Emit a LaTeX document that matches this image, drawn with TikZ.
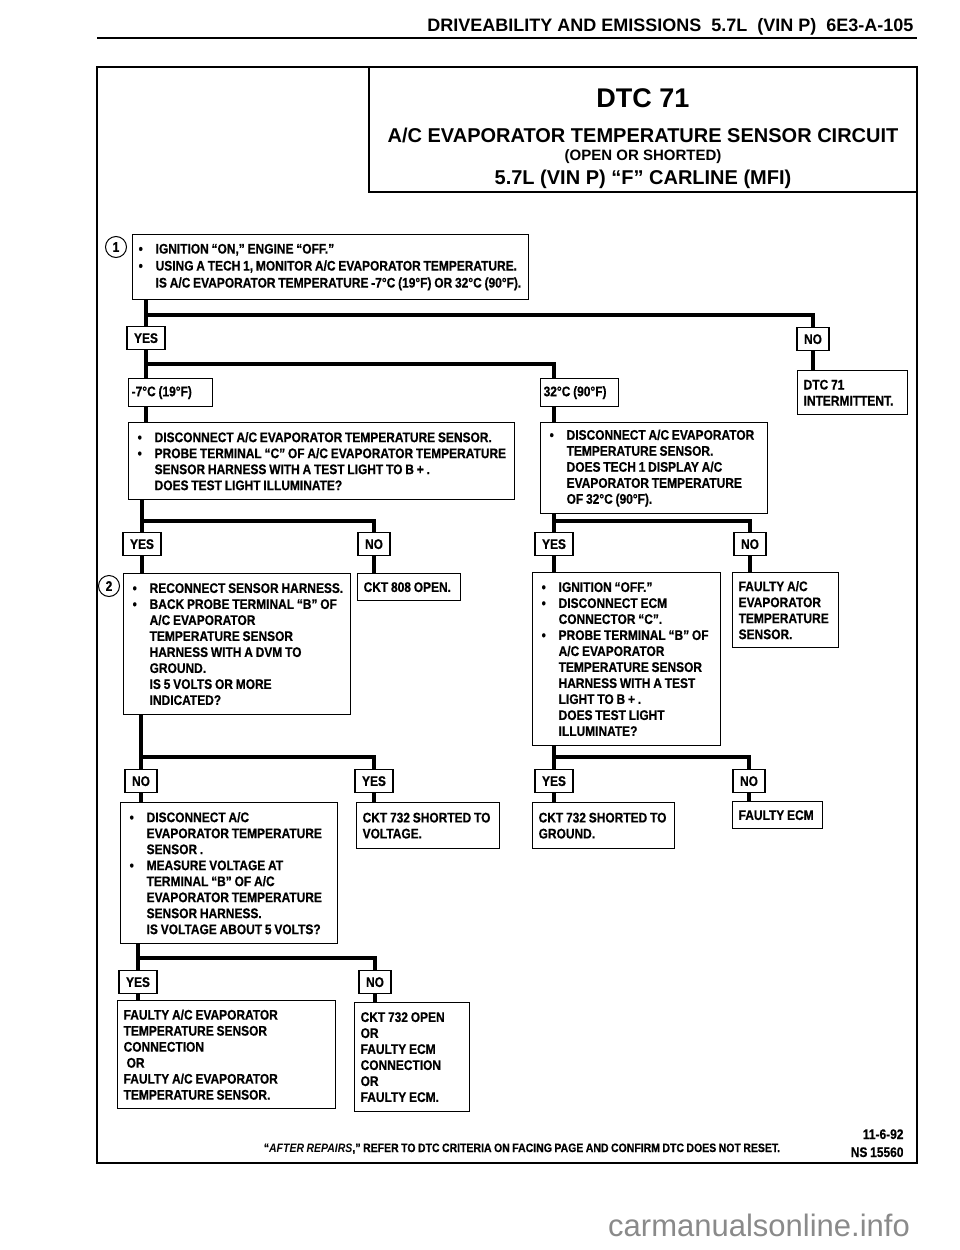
\documentclass[tikz,border=0pt]{standalone}
\usepackage{fontspec}
\setmainfont{Liberation Sans}[FakeStretch=0.86, WordSpace=0.85, BoldFeatures={FakeBold=0.6}]
\newfontfamily\widesans{Liberation Sans}
\usepackage{tikz}
\usetikzlibrary{positioning, calc}
\definecolor{wmgray}{HTML}{8A8A8A}
\newcommand{\bul}{\makebox[20pt][l]{\hspace{3pt}\textbullet}}
\newcommand{\ind}{\hspace*{20pt}}

\begin{document}
\begin{tikzpicture}[x=1pt, y=-1pt,
    every node/.style={font=\bfseries\fontsize{13.9}{16}\selectfont},
    qbox/.style={draw, line width=1.3pt, anchor=north west, align=flush left,
                 inner xsep=6pt, inner ysep=0pt},
    tag/.style={draw, line width=1.3pt, anchor=north, minimum height=23pt,
                inner xsep=7pt, inner ysep=0pt},
    flow/.style={line width=3.6pt},
    num/.style={draw, circle, line width=1pt, minimum size=21pt, inner sep=0pt},
  ]
  \useasboundingbox (0,0) rectangle (960,1250);

  \draw[line width=1.8pt] (97,38) -- (917,38);
  \draw[line width=2.2pt] (97,67) rectangle (917,1163);
  \draw[line width=1.2pt] (369,67) |- (917,192);

  \node[anchor=base east, font=\widesans\bfseries\fontsize{18}{18}\selectfont] (head) at (917,31)
    {DRIVEABILITY AND EMISSIONS\ \ 5.7L\ \ (VIN P)\ \ 6E3-A-105};
  \node[anchor=base, font=\widesans\bfseries\fontsize{27}{27}\selectfont] (dtc) at (643,107) {DTC 71};
  \node[anchor=base, font=\widesans\bfseries\fontsize{20}{20}\selectfont] (circuit) at (643,142)
    {A/C EVAPORATOR TEMPERATURE SENSOR CIRCUIT};
  \node[anchor=base, font=\widesans\bfseries\fontsize{15}{15}\selectfont] (opsh) at (643,160)
    {(OPEN OR SHORTED)};
  \node[anchor=base, font=\widesans\bfseries\fontsize{20}{20}\selectfont] (carline) at (643,184)
    {5.7L (VIN P) “F” CARLINE (MFI)};

  \node[qbox, inner xsep=3pt, text width=390pt, minimum height=65pt,
        font=\bfseries\fontsize{13.9}{17}\selectfont] (q1) at (132,234)
    {\bul IGNITION “ON,” ENGINE “OFF.”\\
     \bul USING A TECH 1, MONITOR A/C EVAPORATOR TEMPERATURE.\\
     \ind IS A/C EVAPORATOR TEMPERATURE -7°C (19°F) OR 32°C (90°F).};
  \node[num] (n1) at (116,247) {1};

  \node[tag] (yes1) at (146,326) {YES};
  \node[tag] (no1) at (813,327) {NO};
  \node[qbox, inner xsep=3pt, text width=78pt, minimum height=28pt] (t1) at (128,378) {-7°C (19°F)};
  \node[qbox, inner xsep=3pt, text width=72pt, minimum height=28pt] (t2) at (540,378) {32°C (90°F)};
  \node[qbox, text width=98pt, minimum height=44pt] (int) at (797,370) {DTC 71\\INTERMITTENT.};

  \node[qbox, text width=374pt, minimum height=77pt] (q2) at (128,422)
    {\bul DISCONNECT A/C EVAPORATOR TEMPERATURE SENSOR.\\
     \bul PROBE TERMINAL “C” OF A/C EVAPORATOR TEMPERATURE\\
     \ind SENSOR HARNESS WITH A TEST LIGHT TO B + .\\
     \ind DOES TEST LIGHT ILLUMINATE?};
  \node[qbox, text width=215pt, minimum height=91pt] (q3) at (540,422)
    {\bul DISCONNECT A/C EVAPORATOR\\
     \ind TEMPERATURE SENSOR.\\
     \ind DOES TECH 1 DISPLAY A/C\\
     \ind EVAPORATOR TEMPERATURE\\
     \ind OF 32°C (90°F).};

  \node[tag] (yes2) at (142,532) {YES};
  \node[tag] (no2) at (374,532) {NO};
  \node[tag] (yes3) at (554,532) {YES};
  \node[tag] (no3) at (750,532) {NO};

  \node[qbox, text width=215pt, minimum height=141pt] (q4) at (123,573)
    {\bul RECONNECT SENSOR HARNESS.\\
     \bul BACK PROBE TERMINAL “B” OF\\
     \ind A/C EVAPORATOR\\
     \ind TEMPERATURE SENSOR\\
     \ind HARNESS WITH A DVM TO\\
     \ind GROUND.\\
     \ind IS 5 VOLTS OR MORE\\
     \ind INDICATED?};
  \node[num] (n2) at (109,586) {2};
  \node[qbox, text width=91pt, minimum height=27pt] (open808) at (357,573) {CKT 808 OPEN.};
  \node[qbox, text width=176pt, minimum height=173pt] (q5) at (532,572)
    {\bul IGNITION “OFF.”\\
     \bul DISCONNECT ECM\\
     \ind CONNECTOR “C”.\\
     \bul PROBE TERMINAL “B” OF\\
     \ind A/C EVAPORATOR\\
     \ind TEMPERATURE SENSOR\\
     \ind HARNESS WITH A TEST\\
     \ind LIGHT TO B + .\\
     \ind DOES TEST LIGHT\\
     \ind ILLUMINATE?};
  \node[qbox, text width=94pt, minimum height=75pt] (sensor) at (732,572)
    {FAULTY A/C\\EVAPORATOR\\TEMPERATURE\\SENSOR.};

  \node[tag] (no4) at (141,769) {NO};
  \node[tag] (yes4) at (374,769) {YES};
  \node[tag] (yes5) at (554,769) {YES};
  \node[tag] (no5) at (749,769) {NO};

  \node[qbox, text width=205pt, minimum height=141pt] (q6) at (120,802)
    {\bul DISCONNECT A/C\\
     \ind EVAPORATOR TEMPERATURE\\
     \ind SENSOR .\\
     \bul MEASURE VOLTAGE AT\\
     \ind TERMINAL “B” OF A/C\\
     \ind EVAPORATOR TEMPERATURE\\
     \ind SENSOR HARNESS.\\
     \ind IS VOLTAGE ABOUT 5 VOLTS?};
  \node[qbox, text width=131pt, minimum height=46pt] (shortv) at (356,802)
    {CKT 732 SHORTED TO\\VOLTAGE.};
  \node[qbox, text width=130pt, minimum height=46pt] (shortg) at (532,802)
    {CKT 732 SHORTED TO\\GROUND.};
  \node[qbox, text width=78pt, minimum height=27pt] (ecm) at (732,801) {FAULTY ECM};

  \node[tag] (yes6) at (138,970) {YES};
  \node[tag] (no6) at (375,970) {NO};
  \node[qbox, text width=206pt, minimum height=108pt] (fix1) at (117,1000)
    {FAULTY A/C EVAPORATOR\\
     TEMPERATURE SENSOR\\
     CONNECTION\\
     \hspace*{3pt}OR\\
     FAULTY A/C EVAPORATOR\\
     TEMPERATURE SENSOR.};
  \node[qbox, text width=103pt, minimum height=109pt] (fix2) at (354,1002)
    {CKT 732 OPEN\\OR\\FAULTY ECM\\CONNECTION\\OR\\FAULTY ECM.};

  \coordinate (j1) at (146,315);
  \coordinate (j2) at (146,364);
  \coordinate (j3) at (142,521);
  \coordinate (j4) at (554,521);
  \coordinate (j5) at (141,757);
  \coordinate (j6) at (554,757);
  \coordinate (j7) at (138,958);

  \draw[flow] (q1.south -| yes1) -- (yes1.north);
  \draw[flow] (j1) -| (no1.north);
  \draw[flow] (no1.south) -- (no1.south |- int.north);
  \draw[flow] (yes1.south) -- (yes1.south |- t1.north);
  \draw[flow] (j2) -| (t2.north -| yes3);
  \draw[flow] (t1.south -| yes1) -- (q2.north -| yes1);
  \draw[flow] (t2.south -| yes3) -- (q3.north -| yes3);
  \draw[flow] (q2.south -| yes2) -- (yes2.north);
  \draw[flow] (j3) -| (no2.north);
  \draw[flow] (q3.south -| yes3) -- (yes3.north);
  \draw[flow] (j4) -| (no3.north);
  \draw[flow] (yes2.south) -- (yes2.south |- q4.north);
  \draw[flow] (no2.south) -- (no2.south |- open808.north);
  \draw[flow] (yes3.south) -- (yes3.south |- q5.north);
  \draw[flow] (no3.south) -- (no3.south |- sensor.north);
  \draw[flow] (q4.south -| no4) -- (no4.north);
  \draw[flow] (j5) -| (yes4.north);
  \draw[flow] (q5.south -| yes5) -- (yes5.north);
  \draw[flow] (j6) -| (no5.north);
  \draw[flow] (no4.south) -- (no4.south |- q6.north);
  \draw[flow] (yes4.south) -- (yes4.south |- shortv.north);
  \draw[flow] (yes5.south) -- (yes5.south |- shortg.north);
  \draw[flow] (no5.south) -- (no5.south |- ecm.north);
  \draw[flow] (q6.south -| yes6) -- (yes6.north);
  \draw[flow] (j7) -| (no6.north);
  \draw[flow] (yes6.south) -- (yes6.south |- fix1.north);
  \draw[flow] (no6.south) -- (no6.south |- fix2.north);

  \node[anchor=base, font=\bfseries\fontsize{12.2}{14}\selectfont] (note) at (522,1152)
    {“\textit{AFTER REPAIRS},” REFER TO DTC CRITERIA ON FACING PAGE AND CONFIRM DTC DOES NOT RESET.};
  \node[anchor=base east] (date) at (907,1139) {11-6-92};
  \node[anchor=base east] (nsnum) at (907,1157) {NS 15560};
  \node[anchor=base east, inner sep=0pt, text=wmgray,
        font=\widesans\fontsize{31}{31}\selectfont] (wm) at (910,1236) {carmanualsonline.info};
\end{tikzpicture}
\end{document}
